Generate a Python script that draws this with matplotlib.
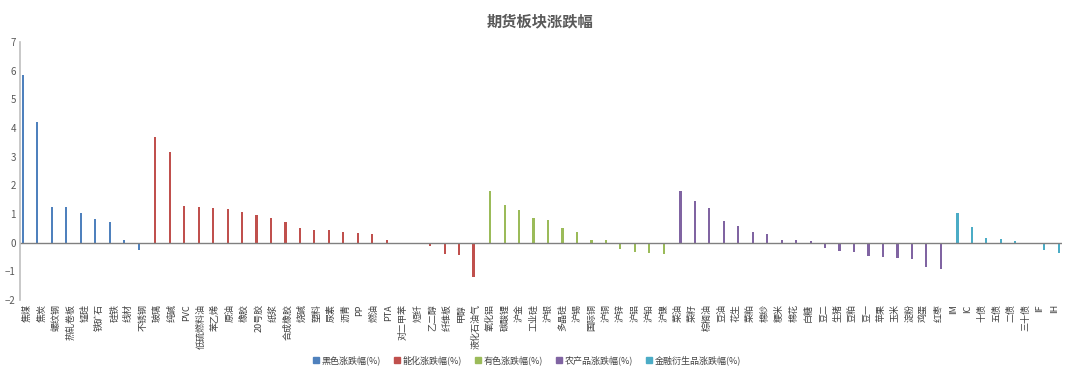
import numpy as np
import matplotlib
matplotlib.use('Agg')
import matplotlib.pyplot as plt
from matplotlib.lines import Line2D

plt.rcParams['font.family'] = ['Noto Sans CJK SC', 'DejaVu Sans']

# 板块数据
black_names = ['焦煤', '焦炭', '螺纹钢', '热轧卷板', '锰硅', '铁矿石', '硅铁', '线材', '不锈钢']
black_vals = [5.85, 4.22, 1.26, 1.26, 1.02, 0.81, 0.72, 0.09, -0.26]

energy_names = ['玻璃', '纯碱', 'PVC', '低硫燃料油', '苯乙烯', '原油', '橡胶', '20号胶', '纸浆',
                '合成橡胶', '烧碱', '塑料', '尿素', '沥青', 'PP', '燃油', 'PTA', '对二甲苯',
                '短纤', '乙二醇', '纤维板', '甲醇', '液化石油气']
energy_vals = [3.70, 3.16, 1.27, 1.26, 1.22, 1.16, 1.07, 0.95, 0.87,
               0.73, 0.52, 0.44, 0.43, 0.38, 0.35, 0.29, 0.08, 0.0,
               0.0, -0.10, -0.40, -0.44, -1.19]

metal_names = ['氧化铝', '碳酸锂', '沪金', '工业硅', '沪银', '多晶硅', '沪锡', '国际铜', '沪铜',
               '沪锌', '沪铝', '沪铅', '沪镍']
metal_vals = [1.80, 1.30, 1.14, 0.85, 0.79, 0.52, 0.36, 0.08, 0.08,
              -0.21, -0.31, -0.37, -0.41]

agri_names = ['菜油', '菜籽', '棕榈油', '豆油', '花生', '菜粕', '棉纱', '粳米', '棉花', '白糖',
              '豆二', '生猪', '豆粕', '豆一', '苹果', '玉米', '淀粉', '鸡蛋', '红枣']
agri_vals = [1.79, 1.47, 1.20, 0.74, 0.57, 0.36, 0.30, 0.11, 0.08, 0.05,
             -0.20, -0.29, -0.33, -0.45, -0.49, -0.55, -0.58, -0.86, -0.92]

fin_names = ['IM', 'IC', '十债', '五债', '二债', '三十债', 'IF', 'IH']
fin_vals = [1.02, 0.56, 0.15, 0.14, 0.05, 0.0, -0.24, -0.36]

series_labels = ['黑色涨跌幅(%)', '能化涨跌幅(%)', '有色涨跌幅(%)', '农产品涨跌幅(%)', '金融衍生品涨跌幅(%)']
colors = ['#4F81BD', '#C0504D', '#9BBB59', '#8064A2', '#4BACC6']

groups = [(black_names, black_vals), (energy_names, energy_vals), (metal_names, metal_vals),
          (agri_names, agri_vals), (fin_names, fin_vals)]

fig = plt.figure(figsize=(10.8, 3.77), dpi=100)
ax = fig.add_axes([0.0185, 0.2042, 0.9645, 0.6844])

all_names = []
bar_w = 0.15
start = 0
for k, (names, vals) in enumerate(groups):
    # 每组在簇内有偏移，类似Excel簇状柱形图
    x = np.arange(start, start + len(names)) + (k - 2) * bar_w
    ax.bar(x, vals, width=bar_w, color=colors[k], label=series_labels[k])
    all_names += names
    start += len(names)

ax.set_xlim(-0.5, len(all_names) - 0.5)
ax.set_ylim(-2, 7)
ax.set_yticks(range(-2, 8))
ax.axhline(0, color='#808080', lw=1)

ax.set_xticks(range(len(all_names)))
ax.set_xticklabels(all_names, rotation=90, fontsize=6.5, color='#404040', va='top', ha='center')
ax.tick_params(axis='x', length=0, pad=3)
ax.tick_params(axis='y', length=0, labelsize=7, labelcolor='#595959', pad=3)

for s in ['top', 'right', 'bottom']:
    ax.spines[s].set_visible(False)
ax.spines['left'].set_color('#BFBFBF')
ax.spines['left'].set_linewidth(1.2)

fig.suptitle('期货板块涨跌幅', y=0.965, fontsize=11, fontweight='bold', color='#595959')

handles = [Line2D([], [], marker='s', linestyle='none', markersize=4, color=c) for c in colors]
fig.legend(handles, series_labels, loc='center', bbox_to_anchor=(0.487, 0.045), ncol=5,
           frameon=False, fontsize=6.5, handletextpad=0.1, columnspacing=1.3,
           handlelength=1.0, labelcolor='#404040')

fig.savefig('out.png', dpi=100)
